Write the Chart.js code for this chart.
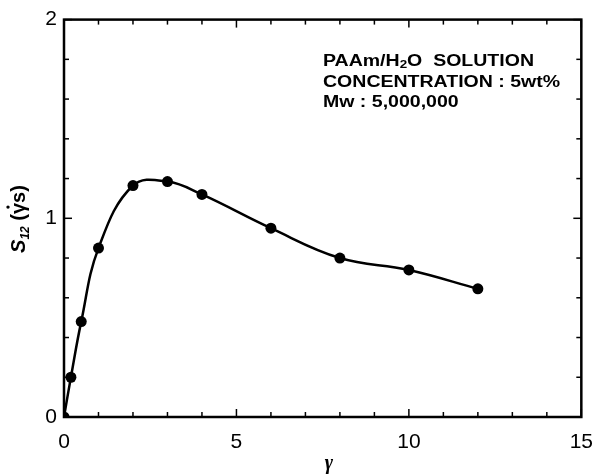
<!DOCTYPE html>
<html>
<head>
<meta charset="utf-8">
<style>
  html, body { margin: 0; padding: 0; background: #fff; }
  #chart { display: block; }
</style>
<script src="https://cdn.jsdelivr.net/npm/chart.js@4/dist/chart.umd.min.js"></script>
</head>
<body>
<canvas id="chart" width="606" height="475"></canvas>
<script>
// shear rate and S12 values of the solution
const gammaValues = [0, 0.2, 0.5, 1, 2, 3, 4, 6, 8, 10, 12];
const s12Values = [0, 0.2, 0.48, 0.85, 1.165, 1.185, 1.12, 0.95, 0.80, 0.74, 0.645];

// axis ticks
const xTickValues = [0, 5, 10, 15];
const yTickValues = [0, 1, 2];
const xMinorStep = 1;
const yMinorStep = 0.2;

const infoLines = [
    [{ t: 'PAAm/H' }, { t: '2', sub: true }, { t: 'O  SOLUTION' }],
    [{ t: 'CONCENTRATION : 5wt%' }],
    [{ t: 'Mw : 5,000,000' }]
];

const FONT = '"Liberation Sans", Arial, Helvetica, sans-serif';

// frame on all four sides with inward major/minor ticks
const framePlugin = {
    id: 'frame',
    afterDraw(chart) {
        const { ctx, chartArea: a, scales } = chart;
        const xs = scales.x, ys = scales.y;
        ctx.save();
        ctx.strokeStyle = '#000';
        ctx.lineWidth = 1.5;
        const tick = (x1, y1, x2, y2) => {
            ctx.beginPath(); ctx.moveTo(x1, y1); ctx.lineTo(x2, y2); ctx.stroke();
        };
        for (let v = xs.min; v <= xs.max + 1e-9; v += xMinorStep) {
            const px = xs.getPixelForValue(v);
            const len = xTickValues.includes(v) ? 8 : 5;
            tick(px, a.bottom, px, a.bottom - len);
            tick(px, a.top, px, a.top + len);
        }
        for (let i = 0; ys.min + i * yMinorStep <= ys.max + 1e-9; i++) {
            const v = ys.min + i * yMinorStep;
            const py = ys.getPixelForValue(v);
            const len = Math.abs(v - Math.round(v)) < 1e-6 ? 8 : 5;
            tick(a.left, py, a.left + len, py);
            tick(a.right, py, a.right - len, py);
        }
        ctx.lineWidth = 2.5;
        ctx.strokeRect(a.left, a.top, a.right - a.left, a.bottom - a.top);
        ctx.restore();
    }
};

// axis titles and the sample description
const textPlugin = {
    id: 'texts',
    afterDraw(chart) {
        const { ctx } = chart;
        ctx.save();
        ctx.fillStyle = '#000';

        // x title: gamma
        ctx.font = 'italic bold 20px "Liberation Serif", "Times New Roman", serif';
        ctx.textAlign = 'center';
        ctx.textBaseline = 'alphabetic';
        ctx.fillText('γ', 329, 469);

        // y title: S12 (gamma-dot s)
        ctx.translate(25, 219);
        ctx.rotate(-Math.PI / 2);
        const runs = [
            { t: 'S', f: 'italic bold 20px ' + FONT, dy: 0 },
            { t: '12', f: 'italic bold 12px ' + FONT, dy: 4 },
            { t: ' (', f: 'bold 20px ' + FONT, dy: 0 },
            { t: 'γ', f: 'bold 20px ' + FONT, dy: 0, dot: true },
            { t: 's)', f: 'bold 20px ' + FONT, dy: 0 }
        ];
        let total = 0;
        runs.forEach(r => { ctx.font = r.f; r.w = ctx.measureText(r.t).width; total += r.w; });
        let x = -total / 2;
        ctx.textAlign = 'left';
        runs.forEach(r => {
            ctx.font = r.f;
            ctx.fillText(r.t, x, r.dy);
            if (r.dot) {
                ctx.beginPath();
                ctx.arc(x + r.w * 0.62, -17, 1.7, 0, Math.PI * 2);
                ctx.fill();
            }
            x += r.w;
        });
        ctx.restore();

        // description block, wide bold lettering
        ctx.save();
        ctx.fillStyle = '#000';
        ctx.textAlign = 'left';
        const baselines = [66, 87, 107];
        infoLines.forEach((line, i) => {
            ctx.save();
            ctx.translate(323, baselines[i]);
            ctx.scale(1.22, 1);
            let lx = 0;
            line.forEach(seg => {
                ctx.font = (seg.sub ? 'bold 11px ' : 'bold 16px ') + FONT;
                ctx.fillText(seg.t, lx, seg.sub ? 2 : 0);
                lx += ctx.measureText(seg.t).width;
            });
            ctx.restore();
        });
        ctx.restore();
    }
};

const points = gammaValues.map((g, i) => ({ x: g, y: s12Values[i] }));

new Chart(document.getElementById('chart'), {
    type: 'scatter',
    data: {
        datasets: [{
            data: points,
            showLine: true,
            tension: 0.4,
            borderColor: '#000',
            borderWidth: 2.5,
            pointRadius: 5.5,
            pointBackgroundColor: '#000',
            pointBorderColor: '#000',
            pointBorderWidth: 0
        }]
    },
    options: {
        responsive: false,
        animation: false,
        layout: { padding: { top: 16, right: 13, left: 0, bottom: 0 } },
        plugins: {
            legend: { display: false },
            tooltip: { enabled: false }
        },
        scales: {
            x: {
                type: 'linear',
                min: 0,
                max: 15,
                afterBuildTicks: s => { s.ticks = xTickValues.map(v => ({ value: v })); },
                afterFit: s => { s.height = 58; },
                grid: { display: false, drawTicks: false },
                border: { display: false },
                ticks: {
                    color: '#000',
                    padding: 13,
                    maxRotation: 0,
                    font: { family: FONT, size: 21 }
                }
            },
            y: {
                type: 'linear',
                min: 0,
                max: 2,
                afterBuildTicks: s => { s.ticks = yTickValues.map(v => ({ value: v })); },
                afterFit: s => { s.width = 64; },
                grid: { display: false, drawTicks: false },
                border: { display: false },
                ticks: {
                    color: '#000',
                    padding: 7,
                    font: { family: FONT, size: 21 }
                }
            }
        }
    },
    plugins: [framePlugin, textPlugin]
});
</script>
</body>
</html>
